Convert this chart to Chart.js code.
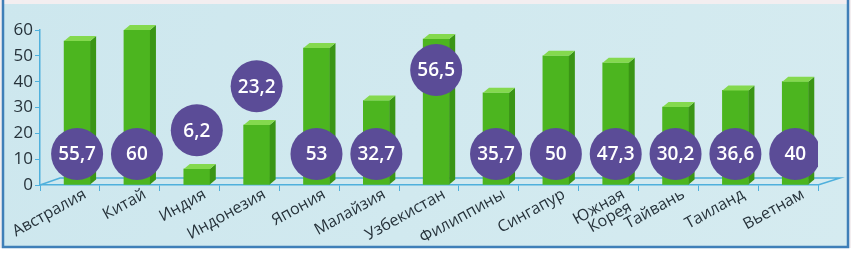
<!DOCTYPE html>
<html>
<head>
<meta charset="utf-8">
<script src="https://cdn.jsdelivr.net/npm/chart.js@4/dist/chart.umd.min.js"></script>
<style>
  html, body { margin: 0; padding: 0; background: #fff; }
  #wrap { width: 851px; height: 253px; }
</style>
</head>
<body>
<div id="wrap"><canvas id="myChart" width="851" height="253"></canvas></div>
<script>
const categories = ['Австралия', 'Китай', 'Индия', 'Индонезия', 'Япония', 'Малайзия', 'Узбекистан',
    'Филиппины', 'Сингапур', ['Южная', 'Корея'], 'Тайвань', 'Таиланд', 'Вьетнам'];
const values = [55.7, 60, 6.2, 23.2, 53, 32.7, 56.5, 35.7, 50, 47.3, 30.2, 36.6, 40];
const yTicks = [0, 10, 20, 30, 40, 50, 60];
const highlighted = 'Узбекистан';

const axisColor = '#4fb0dc';
const textColor = '#26323a';

// bars sit a bit right of the category centre (3d look)
const bars = values.map((v, i) => ({ x: i + 0.62, y: v }));

// circle with the value: above short bars, low inside tall ones
const circles = values.map((v, i) => {
    let y = 12;
    if (v < 25) y = v + 15;
    if (categories[i] === highlighted) y = v - 12;
    return { x: i + 0.62, y: y };
});

const frame = {
    id: 'frame',
    beforeDraw(chart) {
        const c = chart.ctx;
        c.save();
        c.fillStyle = '#f3eef0';
        c.fillRect(0, 0, chart.width, chart.height);
        c.fillStyle = '#ffffff';
        c.fillRect(0, 248, chart.width, 5);
        const g = c.createLinearGradient(0, 0, chart.width, chart.height);
        g.addColorStop(0, '#cde7ee');
        g.addColorStop(1, '#d5ebf0');
        c.fillStyle = g;
        c.fillRect(3, 4, 845, 243);
        c.strokeStyle = '#3f7fb8';
        c.lineWidth = 2.5;
        c.beginPath();
        c.moveTo(3, 0);
        c.lineTo(3, 247);
        c.lineTo(848, 247);
        c.lineTo(848, 0);
        c.stroke();
        c.restore();
    },
    beforeDatasetsDraw(chart) {
        // floor of the 3d plot
        const a = chart.chartArea;
        const c = chart.ctx;
        c.save();
        c.strokeStyle = axisColor;
        c.lineWidth = 1.5;
        c.beginPath();
        c.moveTo(a.left, a.bottom);
        c.lineTo(a.left + 20, a.bottom - 7);
        c.lineTo(a.right + 22, a.bottom - 7);
        c.lineTo(a.right, a.bottom);
        c.stroke();
        c.restore();
    },
    afterDatasetDraw(chart, args) {
        if (args.meta.type !== 'bar') return;
        const c = chart.ctx;
        c.save();
        args.meta.data.forEach((bar) => {
            const p = bar.getProps(['x', 'y', 'base', 'width'], true);
            const l = p.x - p.width / 2;
            const r = p.x + p.width / 2;
            c.fillStyle = '#3a9515';
            c.beginPath();
            c.moveTo(r, p.y);
            c.lineTo(r + 6, p.y - 5);
            c.lineTo(r + 6, p.base - 5);
            c.lineTo(r, p.base);
            c.closePath();
            c.fill();
            c.fillStyle = '#84d94e';
            c.beginPath();
            c.moveTo(l, p.y);
            c.lineTo(l + 6, p.y - 5);
            c.lineTo(r + 6, p.y - 5);
            c.lineTo(r, p.y);
            c.closePath();
            c.fill();
        });
        c.restore();
    },
    afterDatasetsDraw(chart) {
        const meta = chart.getDatasetMeta(0);
        const c = chart.ctx;
        c.save();
        c.fillStyle = '#ffffff';
        c.font = '600 19px "Open Sans"';
        c.textAlign = 'center';
        c.textBaseline = 'middle';
        meta.data.forEach((pt, i) => {
            c.fillText(String(values[i]).replace('.', ','), pt.x, pt.y + 1);
        });
        c.restore();
    }
};

new Chart('myChart', {
    type: 'bar',
    data: {
        datasets: [{
            type: 'scatter',
            data: circles,
            pointRadius: 26,
            pointHoverRadius: 26,
            backgroundColor: '#5b4c97',
            borderWidth: 0,
            order: 0,
        }, {
            data: bars,
            backgroundColor: '#4cb51f',
            barThickness: 26,
            order: 1,
        }]
    },
    options: {
        responsive: false,
        animation: false,
        layout: { padding: { left: 0, top: 30, right: 33, bottom: 0 } },
        plugins: {
            legend: { display: false },
            tooltip: { enabled: false },
        },
        scales: {
            x: {
                type: 'linear',
                min: 0,
                max: 13,
                offset: false,
                grid: { offset: false, drawOnChartArea: false, tickLength: 6, color: axisColor },
                border: { color: axisColor, width: 1.5 },
                ticks: {
                    stepSize: 1,
                    autoSkip: false,
                    minRotation: 29,
                    maxRotation: 29,
                    labelOffset: 45,
                    padding: -4,
                    color: textColor,
                    font: { family: 'Open Sans', size: 16, lineHeight: 0.9 },
                    callback: (v) => categories[v] ?? '',
                },
                afterFit: (s) => {
                    s.height = 68;
                    s.paddingLeft = 0;
                    s.paddingRight = 0;
                },
            },
            y: {
                min: 0,
                max: 60,
                grid: { drawOnChartArea: false, tickLength: 5, color: axisColor },
                border: { color: axisColor, width: 1.5 },
                ticks: {
                    stepSize: 10,
                    padding: 2,
                    color: textColor,
                    font: { family: 'Open Sans', size: 17 },
                    callback: (v) => yTicks.includes(v) ? v : '',
                },
                afterFit: (s) => {
                    s.width = 40;
                    s.paddingTop = 0;
                    s.paddingBottom = 0;
                },
            }
        }
    },
    plugins: [frame]
});
</script>
</body>
</html>
